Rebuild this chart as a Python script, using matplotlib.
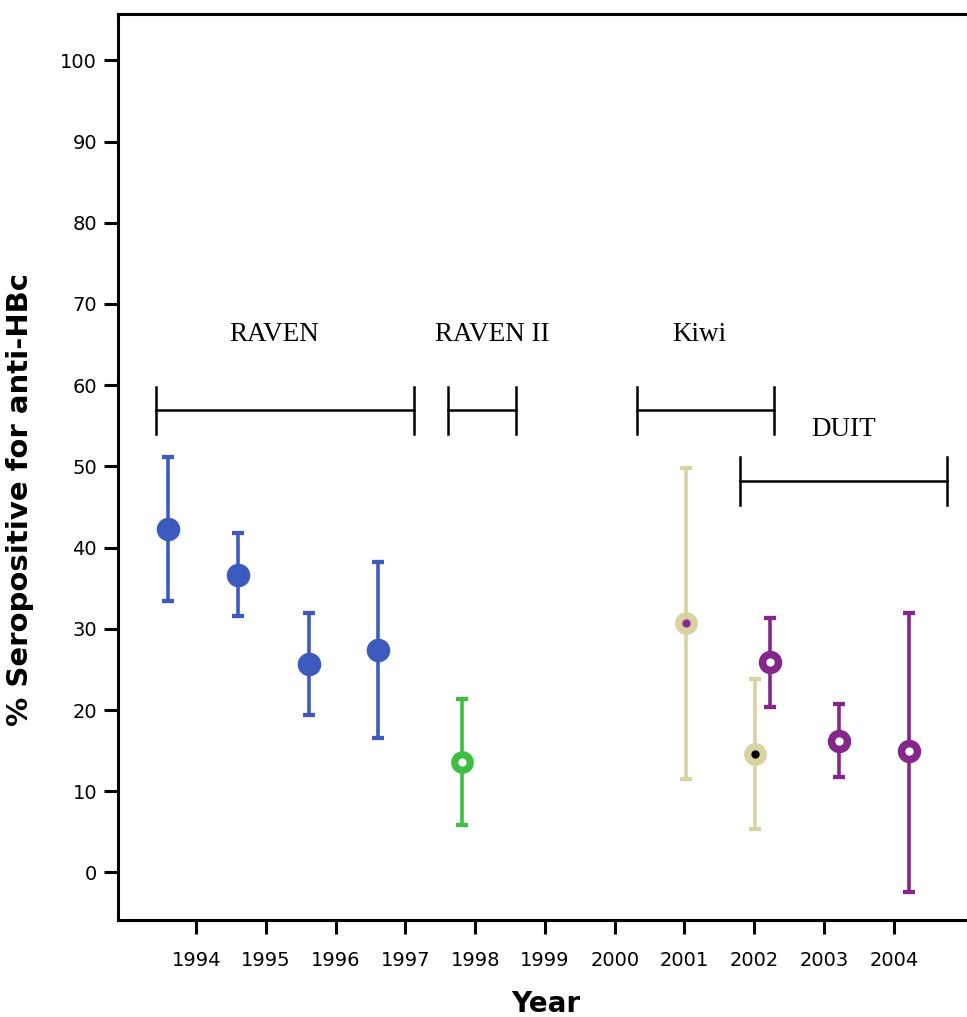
import matplotlib
matplotlib.use("Agg")
import matplotlib.pyplot as plt

# tick labels
years = [1994, 1995, 1996, 1997, 1998, 1999, 2000, 2001, 2002, 2003, 2004]

# RAVEN (filled blue)
raven_x = [1993.6, 1994.6, 1995.62, 1996.6]
raven_y = [42.3, 36.6, 25.7, 27.4]
raven_lo = [33.4, 31.6, 19.4, 16.5]
raven_hi = [51.1, 41.8, 31.9, 38.2]

# RAVEN II (green ring)
raven2_x = [1997.81]
raven2_y = [13.6]
raven2_lo = [5.8]
raven2_hi = [21.3]

# Kiwi (beige with dot)
kiwi_x = [2001.02, 2002.01]
kiwi_y = [30.7, 14.6]
kiwi_lo = [11.5, 5.4]
kiwi_hi = [49.8, 23.8]
kiwi_dot = ["#8B2A8C", "black"]

# DUIT (purple ring)
duit_x = [2002.22, 2003.22, 2004.22]
duit_y = [25.9, 16.2, 14.9]
duit_lo = [20.4, 11.7, -2.4]
duit_hi = [31.3, 20.8, 32.0]

# study period brackets
studies = ["RAVEN", "RAVEN II", "Kiwi", "DUIT"]
study_start = [1993.42, 1997.61, 2000.32, 2001.8]
study_end = [1997.12, 1998.59, 2002.29, 2004.76]
study_level = [56.9, 56.9, 56.9, 48.2]
label_x = [1995.12, 1998.25, 2001.22, 2003.28]
label_y = [66.2, 66.2, 66.2, 54.5]

blue = "#3D5BBE"
green = "#3EBE43"
beige = "#D9D3A2"
purple = "#85268A"


def bars(ax, x, y, lo, hi, color, lw=2.6):
    err = [[v - l for v, l in zip(y, lo)], [h - v for v, h in zip(y, hi)]]
    ax.errorbar(x, y, yerr=err, fmt="none", ecolor=color, elinewidth=lw,
                capsize=4, capthick=lw + 0.5, zorder=2)


fig = plt.figure(figsize=(9.67, 10.17), dpi=100)
ax = fig.add_axes([118 / 967, 1 - 920 / 1017, 1 - 118 / 967, (920 - 14) / 1017])

bars(ax, raven_x, raven_y, raven_lo, raven_hi, blue)
ax.plot(raven_x, raven_y, "o", ms=17, color=blue, mew=0, zorder=3)

bars(ax, raven2_x, raven2_y, raven2_lo, raven2_hi, green)
ax.plot(raven2_x, raven2_y, "o", ms=11.2, mfc="white", mec=green, mew=5.2, zorder=3)

bars(ax, kiwi_x, kiwi_y, kiwi_lo, kiwi_hi, beige)
ax.plot(kiwi_x, kiwi_y, "o", ms=16.5, color=beige, mew=0, zorder=3)
for x, y, c in zip(kiwi_x, kiwi_y, kiwi_dot):
    ax.plot(x, y, "o", ms=6, color=c, mew=0, zorder=4)

bars(ax, duit_x, duit_y, duit_lo, duit_hi, purple)
ax.plot(duit_x, duit_y, "o", ms=11.5, mfc="white", mec=purple, mew=5.4, zorder=3)

# brackets
for s, e, lev, name, tx, ty in zip(study_start, study_end, study_level, studies, label_x, label_y):
    ax.plot([s, e], [lev, lev], color="black", lw=1.8)
    ax.plot([s, s], [lev - 2.9, lev + 2.9], color="black", lw=1.8)
    ax.plot([e, e], [lev - 2.9, lev + 2.9], color="black", lw=1.8)
    ax.text(tx, ty, name, ha="center", va="center", fontsize=19.5,
            family="Liberation Serif")

ax.set_xlim(1992.88, 2005.05)
ax.set_ylim(-5.85, 105.7)
ax.set_xticks(years)
ax.set_xticklabels([str(y) for y in years])
ax.set_yticks(range(0, 101, 10))

for sp in ["left", "bottom", "top"]:
    ax.spines[sp].set_linewidth(2.2)
ax.spines["right"].set_visible(False)
ax.tick_params(axis="both", length=10, width=2.2, labelsize=14)
ax.tick_params(axis="x", pad=12)
ax.tick_params(axis="y", pad=5)

fig.text(20 / 967, 1 - 499 / 1017, "% Seropositive for anti-HBc", rotation=90,
         ha="center", va="center", fontsize=21, fontweight="bold")
fig.text(546 / 967, 1 - 1004 / 1017, "Year", ha="center", va="center",
         fontsize=20, fontweight="bold")

fig.savefig("out.png", dpi=100)
